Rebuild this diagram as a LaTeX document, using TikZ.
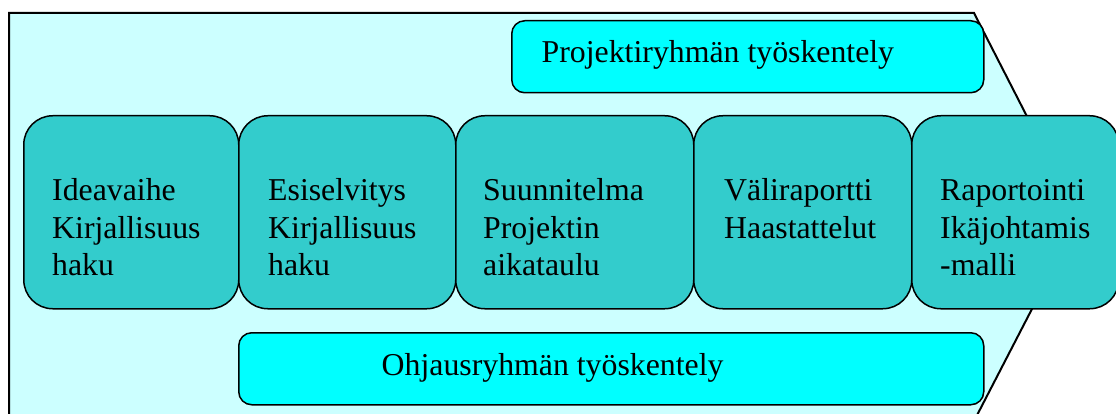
\documentclass[tikz,border=0pt]{standalone}
\usepackage{fontspec}
\setmainfont{Liberation Serif}
\definecolor{shapefill}{HTML}{CCFFFF}
\definecolor{stagefill}{HTML}{33CCCC}
\definecolor{groupfill}{HTML}{00FFFF}
\begin{document}
\begin{tikzpicture}[x=1pt,y=-1pt,
  bigshape/.style={draw=black, line width=2pt, fill=shapefill, line join=miter},
  stagebox/.style={draw=black, line width=1.5pt, fill=stagefill, rounded corners=29pt, inner sep=0pt, anchor=north west},
  groupbox/.style={draw=black, line width=1.5pt, fill=groupfill, rounded corners=13pt, inner sep=0pt, anchor=north west},
  stagetext/.style={inner sep=0pt, anchor=north west, align=left, font=\fontsize{31.8}{37.5}\selectfont},
  grouptext/.style={inner sep=0pt, anchor=base west, font=\fontsize{31.8}{37.5}\selectfont},
]
\useasboundingbox (0,0) rectangle (1116,414);
\clip (0,0) rectangle (1116,414);
% big arrow-shaped background
\coordinate (p1) at (9,423);
\coordinate (p2) at (9,13);
\coordinate (p3) at (974,13);
\coordinate (p4) at (1079,218);
\coordinate (p5) at (973,423);
\draw[bigshape] (p1) -- (p2) -- (p3) -- (p4) -- (p5) -- cycle;
% stage boxes
\node[stagebox, minimum width=215pt, minimum height=193pt] (s1) at (23,115) {};
\node[stagebox, minimum width=217pt, minimum height=193pt] (s2) at (238,115) {};
\node[stagebox, minimum width=238pt, minimum height=193pt] (s3) at (455,115) {};
\node[stagebox, minimum width=218pt, minimum height=193pt] (s4) at (693,115) {};
\node[stagebox, minimum width=207pt, minimum height=193pt] (s5) at (911,115) {};
\node[stagetext] (t1) at (52,174.25) {\strut Ideavaihe\\Kirjallisuus\\haku};
\node[stagetext] (t2) at (268,174.25) {\strut Esiselvitys\\Kirjallisuus\\haku};
\node[stagetext] (t3) at (483,174.25) {\strut Suunnitelma\\Projektin\\aikataulu};
\node[stagetext] (t4) at (724,174.25) {\strut Väliraportti\\Haastattelut};
\node[stagetext] (t5) at (940,174.25) {\strut Raportointi\\Ikäjohtamis\\-malli};
% group boxes
\node[groupbox, minimum width=472pt, minimum height=72pt] (g1) at (511,20) {};
\node[grouptext] (gt1) at (541.5,63) {Projektiryhmän työskentely};
\node[groupbox, minimum width=745pt, minimum height=72pt] (g2) at (238,332) {};
\node[grouptext] (gt2) at (381.5,375) {Ohjausryhmän työskentely};
\end{tikzpicture}
\end{document}
